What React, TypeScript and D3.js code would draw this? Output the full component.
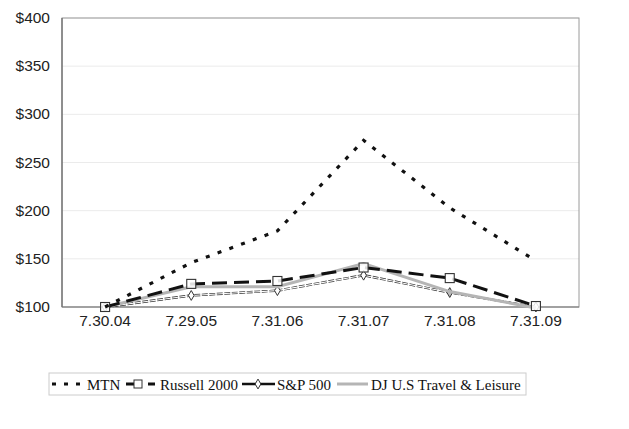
import React from 'react';
import * as d3 from 'd3';

const dates = ['7.30.04', '7.29.05', '7.31.06', '7.31.07', '7.31.08', '7.31.09'];
const mtn = [100, 146, 179, 273, 203, 148];
const russell = [100, 124, 127, 141, 130, 101];
const sp500 = [100, 112, 117, 133, 115, 100];
const djTravel = [100, 121, 121, 145, 116, 99];
const yTicks = [100, 150, 200, 250, 300, 350, 400];

const W = 629;
const H = 429;
const plot = { left: 62, right: 579, top: 18, bottom: 307 };

export default function App() {
  const x = d3.scaleBand<string>().domain(dates).range([plot.left, plot.right]);
  const cx = (d: string) => (x(d) ?? 0) + x.bandwidth() / 2;
  const y = d3.scaleLinear().domain([100, 400]).range([plot.bottom, plot.top]);

  const line = d3.line<number>().x((_, i) => cx(dates[i])).y(v => y(v));

  const axisFont = '"Liberation Sans", Arial, sans-serif';
  const legendFont = '"Liberation Serif", "Times New Roman", serif';

  return (
    <div style={{ position: 'absolute', left: 0, top: 0 }}>
      <svg width={W} height={H} style={{ display: 'block', background: '#fff' }}>
        {/* grid */}
        {yTicks.slice(1).map(t => (
          <line key={t} x1={plot.left} x2={plot.right} y1={y(t)} y2={y(t)} stroke="#ebebeb" strokeWidth={1} />
        ))}
        {/* frame */}
        <rect x={plot.left} y={plot.top} width={plot.right - plot.left} height={plot.bottom - plot.top}
          fill="none" stroke="#9a9a9a" strokeWidth={1} />
        <line x1={plot.left} x2={plot.left} y1={plot.top} y2={plot.bottom} stroke="#666" strokeWidth={1.2} />
        <line x1={plot.left} x2={plot.right} y1={plot.bottom} y2={plot.bottom} stroke="#777" strokeWidth={1.2} />

        {/* y labels */}
        {yTicks.map(t => (
          <text key={t} x={50} y={y(t) + 5} textAnchor="end" fontFamily={axisFont} fontSize={15.5} fill="#222">
            ${t}
          </text>
        ))}
        {/* x labels */}
        {dates.map(d => (
          <text key={d} x={cx(d)} y={326} textAnchor="middle" fontFamily={axisFont} fontSize={15.5} fill="#222">
            {d}
          </text>
        ))}

        {/* S&P 500: thin double line */}
        <path d={line(sp500) ?? ''} fill="none" stroke="#333" strokeWidth={2.4} strokeDasharray="6,1.5" />
        <path d={line(sp500) ?? ''} fill="none" stroke="#fff" strokeWidth={1.1} />
        {sp500.map((v, i) => (
          <path key={i} d={d3.symbol(d3.symbolDiamond, 28)() ?? ''}
            transform={`translate(${cx(dates[i])},${y(v)})`}
            fill={i === 4 ? '#bbb' : '#fff'} stroke="#333" strokeWidth={1} />
        ))}

        {/* DJ U.S Travel & Leisure */}
        <path d={line(djTravel) ?? ''} fill="none" stroke="#b5b5b5" strokeWidth={3} />

        {/* Russell 2000 */}
        <path d={line(russell) ?? ''} fill="none" stroke="#111" strokeWidth={3} strokeDasharray="15,7" />
        {russell.map((v, i) => (
          <rect key={i} x={cx(dates[i]) - 4.5} y={y(v) - 4.5} width={9} height={9}
            fill="#fff" fillOpacity={0.85} stroke="#333" strokeWidth={1.1} />
        ))}

        {/* MTN */}
        <path d={line(mtn) ?? ''} fill="none" stroke="#111" strokeWidth={3.2} strokeDasharray="4,8.5" />

        {/* legend */}
        <rect x={49} y={373} width={477} height={22} fill="#fff" stroke="#ccc" strokeWidth={1} />
        <line x1={52} x2={82} y1={384} y2={384} stroke="#111" strokeWidth={3} strokeDasharray="4,8" />
        <text x={87} y={389.5} fontFamily={legendFont} fontSize={15} fill="#111">MTN</text>

        <line x1={126} x2={155} y1={384} y2={384} stroke="#111" strokeWidth={3} strokeDasharray="15,7" />
        <rect x={134} y={380} width={8} height={8} fill="#fff" stroke="#333" strokeWidth={1} />
        <text x={160} y={389.5} fontFamily={legendFont} fontSize={15} fill="#111">Russell 2000</text>

        <line x1={242} x2={275} y1={384} y2={384} stroke="#111" strokeWidth={2.6} />
        <path d={d3.symbol(d3.symbolDiamond, 28)() ?? ''} transform="translate(258,384)" fill="#fff" stroke="#333" strokeWidth={1} />
        <text x={277} y={389.5} fontFamily={legendFont} fontSize={15} fill="#111">S&amp;P 500</text>

        <line x1={337} x2={368} y1={384} y2={384} stroke="#b5b5b5" strokeWidth={3} />
        <text x={371} y={389.5} fontFamily={legendFont} fontSize={15} fill="#111">DJ U.S Travel &amp; Leisure</text>
      </svg>
    </div>
  );
}
